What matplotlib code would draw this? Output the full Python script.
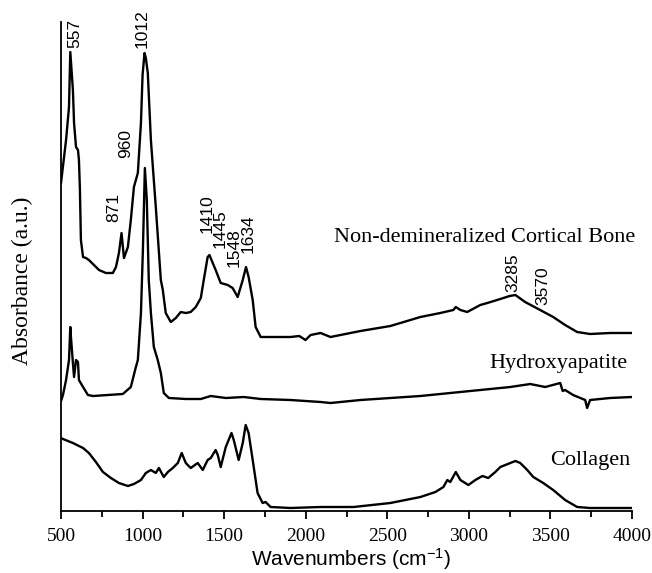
import matplotlib
matplotlib.use("Agg")
import matplotlib.pyplot as plt
from matplotlib.ticker import MultipleLocator

plt.rcParams["mathtext.fontset"] = "custom"
plt.rcParams["mathtext.rm"] = "Liberation Sans"
plt.rcParams["mathtext.it"] = "Liberation Sans"
plt.rcParams["mathtext.bf"] = "Liberation Sans:bold"

# ---- data (wavenumber in cm^-1, absorbance in arbitrary units) ----
bone_x = [500, 531, 549, 557, 573, 580, 592, 604, 610, 616, 622, 635, 653, 671, 702, 733, 775, 818,
          837, 855, 871, 886, 910, 928, 947, 971, 990, 1000, 1012, 1020, 1032, 1051, 1081, 1112, 1124,
          1142, 1173, 1204, 1234, 1265, 1295, 1326, 1357, 1375, 1399, 1410, 1430, 1448, 1479, 1522,
          1552, 1583, 1614, 1634, 1650, 1675, 1693, 1724, 1907, 1960, 1999, 2030, 2091, 2152, 2336,
          2519, 2703, 2825, 2905, 2920, 2948, 2990, 3070, 3113, 3193, 3250, 3285, 3345, 3437, 3517,
          3590, 3664, 3743, 3866, 4000]
bone_y = [328, 371, 404, 459, 421, 388, 364, 361, 351, 321, 271, 254, 253, 251, 246, 241, 238, 238,
          244, 258, 278, 253, 264, 291, 324, 338, 388, 436, 458, 453, 438, 371, 304, 231, 221,
          198, 189, 193, 199, 198, 199, 204, 213, 231, 254, 256, 248, 241, 228, 226,
          223, 214, 231, 244, 234, 211, 184, 174, 174, 175, 171, 176, 178, 174, 180,
          185, 194, 198, 201, 204, 201, 199, 206, 208, 212, 215, 216, 209, 201, 194,
          186, 179, 177, 178, 178]

hap_x = [500, 512, 531, 549, 557, 561, 573, 580, 592, 604, 610, 635, 665, 696, 879, 928, 959, 971,
         990, 1002, 1014, 1026, 1038, 1051, 1069, 1093, 1112, 1130, 1161, 1265, 1357, 1418, 1510,
         1620, 1724, 1907, 2091, 2152, 2336, 2703, 3070, 3254, 3376, 3468, 3560, 3575, 3590, 3639,
         3713, 3725, 3743, 3866, 4000]
hap_y = [110, 116, 131, 151, 184, 174, 148, 134, 151, 149, 131, 124, 116, 115, 117, 124, 144, 151,
         198, 261, 343, 311, 231, 198, 164, 151, 138, 118, 113, 112, 112, 115, 113,
         114, 112, 111, 109, 108, 111, 115, 121, 124, 127, 124, 128, 120, 121, 116,
         111, 103, 111, 113, 114]

col_x = [500, 512, 573, 635, 671, 714, 757, 806, 855, 910, 947, 990, 1020, 1051, 1081, 1100, 1130,
         1155, 1185, 1216, 1240, 1265, 1295, 1338, 1369, 1399, 1418, 1448, 1461, 1479, 1510, 1545,
         1559, 1589, 1614, 1632, 1650, 1675, 1705, 1736, 1754, 1785, 1907, 2091, 2293, 2519, 2703,
         2795, 2844, 2868, 2886, 2920, 2948, 2997, 3040, 3083, 3119, 3162, 3193, 3254, 3285, 3315,
         3358, 3395, 3456, 3517, 3590, 3664, 3743, 4000]
col_y = [73, 72, 68, 63, 58, 49, 39, 33, 28, 25, 27, 31, 38, 41, 38, 43, 34,
         39, 43, 48, 58, 48, 43, 48, 41, 51, 53, 61, 56, 44, 64, 78,
         71, 51, 68, 86, 78, 51, 18, 8, 9, 4, 3, 4, 4, 8, 14,
         19, 24, 31, 29, 39, 31, 26, 31, 35, 33, 39, 44, 48, 50, 48,
         41, 34, 28, 21, 11, 4, 3, 3]

peak_labels = ["557", "1012", "960", "871", "1410", "1445", "1548", "1634", "3285", "3570"]
peak_label_x = [586, 996, 898, 824, 1395, 1473, 1559, 1645, 3272, 3456]
peak_label_y = [463, 463, 353, 289, 278, 263, 244, 258, 219, 206]

series_names = ["Non-demineralized Cortical Bone", "Hydroxyapatite", "Collagen"]
series_name_x = [4018, 3975, 3988]
series_name_y = [269, 143, 46]

x_ticks = [500, 1000, 1500, 2000, 2500, 3000, 3500, 4000]

# ---- figure ----
W, H = 652, 573
fig = plt.figure(figsize=(W / 100, H / 100), dpi=100)
ax = fig.add_axes([61 / W, 62 / H, 571 / W, 489 / H])

lw = 1.7
for xs, ys in [(bone_x, bone_y), (hap_x, hap_y), (col_x, col_y)]:
    ax.plot(xs, ys, color="black", lw=lw, solid_joinstyle="round")

ax.set_xlim(500, 4000)
ax.set_ylim(0, 489)

for s in ["top", "right"]:
    ax.spines[s].set_visible(False)
for s in ["left", "bottom"]:
    ax.spines[s].set_linewidth(1.3)

ax.set_yticks([])
ax.set_xticks(x_ticks)
ax.xaxis.set_minor_locator(MultipleLocator(250))
ax.tick_params(axis="x", which="major", direction="out", length=6, width=1.3, pad=6)
ax.tick_params(axis="x", which="minor", direction="out", length=4, width=1.3)
for lab in ax.get_xticklabels():
    lab.set_fontfamily("Liberation Serif")
    lab.set_fontsize(14)

fig.text(351 / W, 1 - 566 / H, "Wavenumbers (cm$^{-1}$)", family="Liberation Sans",
         fontsize=15, ha="center", va="baseline")
fig.text(22 / W, 1 - 281 / H, "Absorbance (a.u.)", family="Liberation Serif", fontsize=17,
         rotation=90, ha="center", va="center")

for t, x, y in zip(peak_labels, peak_label_x, peak_label_y):
    ax.text(x, y, t, rotation=90, ha="center", va="bottom", family="Liberation Sans",
            fontsize=12.5, clip_on=False)

for t, x, y in zip(series_names, series_name_x, series_name_y):
    ax.text(x, y, t, ha="right", va="baseline", family="Liberation Serif", fontsize=16,
            clip_on=False)

fig.savefig("out.png", dpi=100)
